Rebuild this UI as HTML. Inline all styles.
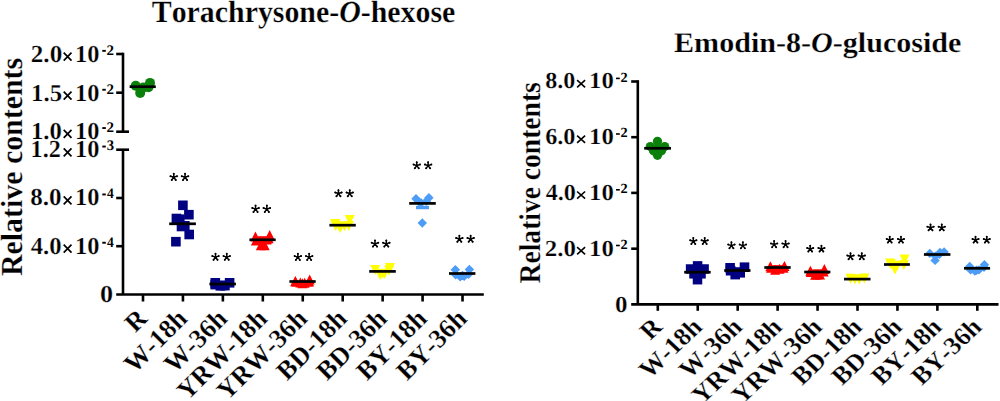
<!DOCTYPE html>
<html><head><meta charset="utf-8"><style>
html,body{margin:0;padding:0;background:#fff;width:1000px;height:401px;overflow:hidden}
svg{display:block}
text{font-family:"Liberation Serif", serif;text-rendering:geometricPrecision;stroke:#fff;stroke-width:0.25px;paint-order:fill stroke;font-kerning:none;font-feature-settings:"kern" 0}
.fb{font-family:"Liberation Serif", serif;font-weight:bold;font-style:normal}
.fbi{font-family:"Liberation Serif", serif;font-weight:bold;font-style:italic}
.s{font-family:"Liberation Sans", sans-serif;font-weight:normal;font-style:normal}
.sb{font-family:"Liberation Sans", sans-serif;font-weight:bold;font-style:normal}
</style></head><body>
<svg width="1000" height="401" viewBox="0 0 1000 401">
<rect width="1000" height="401" fill="#fff"/>
<text transform="translate(151.75,21.80) scale(0.9695,1)" font-size="30.8" fill="#000"><tspan class="fb">Torachrysone-</tspan><tspan class="fbi">O</tspan><tspan class="fb">-hexose</tspan></text>
<text transform="translate(674.05,51.80) scale(1.0591,1)" font-size="28.4" fill="#000"><tspan class="fb">Emodin-8-</tspan><tspan class="fbi">O</tspan><tspan class="fb">-glucoside</tspan></text>
<text transform="translate(22.20,276.05) rotate(-90) scale(0.9734,1)" font-size="30.7" text-anchor="start"><tspan class="fb">Relative contents</tspan></text>
<text transform="translate(540.30,283.41) rotate(-90) scale(0.9126,1)" font-size="30.2" text-anchor="start"><tspan class="fb">Relative contents</tspan></text>
<line x1="123.00" y1="52.70" x2="123.00" y2="131.70" stroke="#000" stroke-width="2.6" stroke-linecap="butt"/>
<line x1="123.00" y1="149.70" x2="123.00" y2="294.50" stroke="#000" stroke-width="2.6" stroke-linecap="butt"/>
<line x1="116.20" y1="294.50" x2="483.80" y2="294.50" stroke="#000" stroke-width="2.6" stroke-linecap="butt"/>
<line x1="116.20" y1="54.00" x2="123.00" y2="54.00" stroke="#000" stroke-width="2.6" stroke-linecap="butt"/>
<line x1="116.20" y1="92.70" x2="123.00" y2="92.70" stroke="#000" stroke-width="2.6" stroke-linecap="butt"/>
<line x1="116.20" y1="198.00" x2="123.00" y2="198.00" stroke="#000" stroke-width="2.6" stroke-linecap="butt"/>
<line x1="116.20" y1="246.20" x2="123.00" y2="246.20" stroke="#000" stroke-width="2.6" stroke-linecap="butt"/>
<line x1="116.20" y1="131.70" x2="129.00" y2="131.70" stroke="#000" stroke-width="2.6" stroke-linecap="butt"/>
<line x1="116.20" y1="149.70" x2="129.00" y2="149.70" stroke="#000" stroke-width="2.6" stroke-linecap="butt"/>
<line x1="143.00" y1="294.50" x2="143.00" y2="301.50" stroke="#000" stroke-width="2.6" stroke-linecap="butt"/>
<line x1="182.94" y1="294.50" x2="182.94" y2="301.50" stroke="#000" stroke-width="2.6" stroke-linecap="butt"/>
<line x1="222.88" y1="294.50" x2="222.88" y2="301.50" stroke="#000" stroke-width="2.6" stroke-linecap="butt"/>
<line x1="262.82" y1="294.50" x2="262.82" y2="301.50" stroke="#000" stroke-width="2.6" stroke-linecap="butt"/>
<line x1="302.76" y1="294.50" x2="302.76" y2="301.50" stroke="#000" stroke-width="2.6" stroke-linecap="butt"/>
<line x1="342.70" y1="294.50" x2="342.70" y2="301.50" stroke="#000" stroke-width="2.6" stroke-linecap="butt"/>
<line x1="382.64" y1="294.50" x2="382.64" y2="301.50" stroke="#000" stroke-width="2.6" stroke-linecap="butt"/>
<line x1="422.58" y1="294.50" x2="422.58" y2="301.50" stroke="#000" stroke-width="2.6" stroke-linecap="butt"/>
<line x1="462.52" y1="294.50" x2="462.52" y2="301.50" stroke="#000" stroke-width="2.6" stroke-linecap="butt"/>
<text transform="translate(30.79,61.70) scale(1.0298,1)" font-size="24.4" fill="#000"><tspan class="fb">2.0</tspan></text><path d="M63.70,52.70L71.50,60.70M71.50,52.70L63.70,60.70" stroke="#000" stroke-width="1.7" fill="none"/><text transform="translate(75.10,61.70) scale(1.0000,1)" font-size="24.4"><tspan class="fb">10</tspan></text><rect x="102.3" y="49.90" width="3.5" height="1.9" fill="#000"/><text transform="translate(106.60,54.60) scale(1.0274,1)" font-size="14.6" fill="#000" style="stroke:none"><tspan class="fb">2</tspan></text>
<text transform="translate(31.12,100.60) scale(1.0147,1)" font-size="24.4" fill="#000"><tspan class="fb">1.5</tspan></text><path d="M63.70,91.60L71.50,99.60M71.50,91.60L63.70,99.60" stroke="#000" stroke-width="1.7" fill="none"/><text transform="translate(75.10,100.60) scale(1.0000,1)" font-size="24.4"><tspan class="fb">10</tspan></text><rect x="102.3" y="88.80" width="3.5" height="1.9" fill="#000"/><text transform="translate(106.60,93.50) scale(1.0274,1)" font-size="14.6" fill="#000" style="stroke:none"><tspan class="fb">2</tspan></text>
<text transform="translate(31.02,138.90) scale(1.0119,1)" font-size="24.4" fill="#000"><tspan class="fb">1.0</tspan></text><path d="M63.70,129.90L71.50,137.90M71.50,129.90L63.70,137.90" stroke="#000" stroke-width="1.7" fill="none"/><text transform="translate(75.10,138.90) scale(1.0000,1)" font-size="24.4"><tspan class="fb">10</tspan></text><rect x="102.3" y="127.10" width="3.5" height="1.9" fill="#000"/><text transform="translate(106.60,131.80) scale(1.0274,1)" font-size="14.6" fill="#000" style="stroke:none"><tspan class="fb">2</tspan></text>
<text transform="translate(30.57,157.40) scale(0.9901,1)" font-size="24.4" fill="#000"><tspan class="fb">1.2</tspan></text><path d="M63.70,148.40L71.50,156.40M71.50,148.40L63.70,156.40" stroke="#000" stroke-width="1.7" fill="none"/><text transform="translate(75.10,157.40) scale(1.0000,1)" font-size="24.4"><tspan class="fb">10</tspan></text><rect x="102.3" y="145.60" width="3.5" height="1.9" fill="#000"/><text transform="translate(106.69,150.30) scale(1.0035,1)" font-size="14.6" fill="#000" style="stroke:none"><tspan class="fb">3</tspan></text>
<text transform="translate(30.22,205.30) scale(1.0290,1)" font-size="24.4" fill="#000"><tspan class="fb">8.0</tspan></text><path d="M63.70,196.30L71.50,204.30M71.50,196.30L63.70,204.30" stroke="#000" stroke-width="1.7" fill="none"/><text transform="translate(75.10,205.30) scale(1.0000,1)" font-size="24.4"><tspan class="fb">10</tspan></text><rect x="102.3" y="193.50" width="3.5" height="1.9" fill="#000"/><text transform="translate(107.00,198.20) scale(0.9280,1)" font-size="14.6" fill="#000" style="stroke:none"><tspan class="fb">4</tspan></text>
<text transform="translate(30.73,253.60) scale(1.0117,1)" font-size="24.4" fill="#000"><tspan class="fb">4.0</tspan></text><path d="M63.70,244.60L71.50,252.60M71.50,244.60L63.70,252.60" stroke="#000" stroke-width="1.7" fill="none"/><text transform="translate(75.10,253.60) scale(1.0000,1)" font-size="24.4"><tspan class="fb">10</tspan></text><rect x="102.3" y="241.80" width="3.5" height="1.9" fill="#000"/><text transform="translate(107.00,246.50) scale(0.9280,1)" font-size="14.6" fill="#000" style="stroke:none"><tspan class="fb">4</tspan></text>
<text transform="translate(99.95,301.80) scale(1.0734,1)" font-size="24.4" fill="#000"><tspan class="fb">0</tspan></text>
<line x1="637.80" y1="80.20" x2="637.80" y2="304.40" stroke="#000" stroke-width="2.6" stroke-linecap="butt"/>
<line x1="631.20" y1="304.40" x2="998.50" y2="304.40" stroke="#000" stroke-width="2.6" stroke-linecap="butt"/>
<line x1="631.20" y1="81.50" x2="637.80" y2="81.50" stroke="#000" stroke-width="2.6" stroke-linecap="butt"/>
<line x1="631.20" y1="137.20" x2="637.80" y2="137.20" stroke="#000" stroke-width="2.6" stroke-linecap="butt"/>
<line x1="631.20" y1="192.90" x2="637.80" y2="192.90" stroke="#000" stroke-width="2.6" stroke-linecap="butt"/>
<line x1="631.20" y1="248.70" x2="637.80" y2="248.70" stroke="#000" stroke-width="2.6" stroke-linecap="butt"/>
<line x1="657.80" y1="304.40" x2="657.80" y2="310.80" stroke="#000" stroke-width="2.6" stroke-linecap="butt"/>
<line x1="697.74" y1="304.40" x2="697.74" y2="310.80" stroke="#000" stroke-width="2.6" stroke-linecap="butt"/>
<line x1="737.68" y1="304.40" x2="737.68" y2="310.80" stroke="#000" stroke-width="2.6" stroke-linecap="butt"/>
<line x1="777.62" y1="304.40" x2="777.62" y2="310.80" stroke="#000" stroke-width="2.6" stroke-linecap="butt"/>
<line x1="817.56" y1="304.40" x2="817.56" y2="310.80" stroke="#000" stroke-width="2.6" stroke-linecap="butt"/>
<line x1="857.50" y1="304.40" x2="857.50" y2="310.80" stroke="#000" stroke-width="2.6" stroke-linecap="butt"/>
<line x1="897.44" y1="304.40" x2="897.44" y2="310.80" stroke="#000" stroke-width="2.6" stroke-linecap="butt"/>
<line x1="937.38" y1="304.40" x2="937.38" y2="310.80" stroke="#000" stroke-width="2.6" stroke-linecap="butt"/>
<line x1="977.32" y1="304.40" x2="977.32" y2="310.80" stroke="#000" stroke-width="2.6" stroke-linecap="butt"/>
<text transform="translate(545.16,88.40) scale(1.0472,1)" font-size="23.0" fill="#000"><tspan class="fb">8.0</tspan></text><path d="M577.10,80.10L585.10,87.30M585.10,80.10L577.10,87.30" stroke="#000" stroke-width="1.6" fill="none"/><text transform="translate(589.10,88.40) scale(1.0770,1)" font-size="23.0"><tspan class="fb">10</tspan></text><rect x="616.0" y="77.60" width="3.8" height="1.6" fill="#000"/><text transform="translate(620.43,81.50) scale(1.0204,1)" font-size="14.0" fill="#000" style="stroke:none"><tspan class="fb">2</tspan></text>
<text transform="translate(545.15,144.00) scale(1.0546,1)" font-size="23.0" fill="#000"><tspan class="fb">6.0</tspan></text><path d="M577.10,135.70L585.10,142.90M585.10,135.70L577.10,142.90" stroke="#000" stroke-width="1.6" fill="none"/><text transform="translate(589.10,144.00) scale(1.0770,1)" font-size="23.0"><tspan class="fb">10</tspan></text><rect x="616.0" y="133.20" width="3.8" height="1.6" fill="#000"/><text transform="translate(620.43,137.10) scale(1.0204,1)" font-size="14.0" fill="#000" style="stroke:none"><tspan class="fb">2</tspan></text>
<text transform="translate(545.64,199.80) scale(1.0515,1)" font-size="23.0" fill="#000"><tspan class="fb">4.0</tspan></text><path d="M577.10,191.50L585.10,198.70M585.10,191.50L577.10,198.70" stroke="#000" stroke-width="1.6" fill="none"/><text transform="translate(589.10,199.80) scale(1.0770,1)" font-size="23.0"><tspan class="fb">10</tspan></text><rect x="616.0" y="189.00" width="3.8" height="1.6" fill="#000"/><text transform="translate(620.43,192.90) scale(1.0204,1)" font-size="14.0" fill="#000" style="stroke:none"><tspan class="fb">2</tspan></text>
<text transform="translate(544.70,255.50) scale(1.0851,1)" font-size="23.0" fill="#000"><tspan class="fb">2.0</tspan></text><path d="M577.10,247.20L585.10,254.40M585.10,247.20L577.10,254.40" stroke="#000" stroke-width="1.6" fill="none"/><text transform="translate(589.10,255.50) scale(1.0770,1)" font-size="23.0"><tspan class="fb">10</tspan></text><rect x="616.0" y="244.70" width="3.8" height="1.6" fill="#000"/><text transform="translate(620.43,248.60) scale(1.0204,1)" font-size="14.0" fill="#000" style="stroke:none"><tspan class="fb">2</tspan></text>
<text transform="translate(615.00,311.60) scale(1.0870,1)" font-size="23.0" fill="#000"><tspan class="fb">0</tspan></text>
<text transform="translate(148.80,320.00) rotate(-45) scale(1.0000,1)" font-size="26.5" text-anchor="end"><tspan class="fb">R</tspan></text>
<text transform="translate(663.70,328.30) scale(1.0600,1) rotate(-45) scale(1.0000,1)" font-size="25.0" text-anchor="end"><tspan class="fb">R</tspan></text>
<text transform="translate(188.74,320.00) rotate(-45) scale(1.0000,1)" font-size="26.5" text-anchor="end"><tspan class="fb">W-18h</tspan></text>
<text transform="translate(703.64,328.30) scale(1.0600,1) rotate(-45) scale(1.0000,1)" font-size="25.0" text-anchor="end"><tspan class="fb">W-18h</tspan></text>
<text transform="translate(228.68,320.00) rotate(-45) scale(1.0000,1)" font-size="26.5" text-anchor="end"><tspan class="fb">W-36h</tspan></text>
<text transform="translate(743.58,328.30) scale(1.0600,1) rotate(-45) scale(1.0000,1)" font-size="25.0" text-anchor="end"><tspan class="fb">W-36h</tspan></text>
<text transform="translate(268.62,320.00) rotate(-45) scale(1.0000,1)" font-size="26.5" text-anchor="end"><tspan class="fb">YRW-18h</tspan></text>
<text transform="translate(783.52,328.30) scale(1.0600,1) rotate(-45) scale(1.0000,1)" font-size="25.0" text-anchor="end"><tspan class="fb">YRW-18h</tspan></text>
<text transform="translate(308.56,320.00) rotate(-45) scale(1.0000,1)" font-size="26.5" text-anchor="end"><tspan class="fb">YRW-36h</tspan></text>
<text transform="translate(823.46,328.30) scale(1.0600,1) rotate(-45) scale(1.0000,1)" font-size="25.0" text-anchor="end"><tspan class="fb">YRW-36h</tspan></text>
<text transform="translate(348.50,320.00) rotate(-45) scale(1.0000,1)" font-size="26.5" text-anchor="end"><tspan class="fb">BD-18h</tspan></text>
<text transform="translate(863.40,328.30) scale(1.0600,1) rotate(-45) scale(1.0000,1)" font-size="25.0" text-anchor="end"><tspan class="fb">BD-18h</tspan></text>
<text transform="translate(388.44,320.00) rotate(-45) scale(1.0000,1)" font-size="26.5" text-anchor="end"><tspan class="fb">BD-36h</tspan></text>
<text transform="translate(903.34,328.30) scale(1.0600,1) rotate(-45) scale(1.0000,1)" font-size="25.0" text-anchor="end"><tspan class="fb">BD-36h</tspan></text>
<text transform="translate(428.38,320.00) rotate(-45) scale(1.0000,1)" font-size="26.5" text-anchor="end"><tspan class="fb">BY-18h</tspan></text>
<text transform="translate(943.28,328.30) scale(1.0600,1) rotate(-45) scale(1.0000,1)" font-size="25.0" text-anchor="end"><tspan class="fb">BY-18h</tspan></text>
<text transform="translate(468.32,320.00) rotate(-45) scale(1.0000,1)" font-size="26.5" text-anchor="end"><tspan class="fb">BY-36h</tspan></text>
<text transform="translate(983.22,328.30) scale(1.0600,1) rotate(-45) scale(1.0000,1)" font-size="25.0" text-anchor="end"><tspan class="fb">BY-36h</tspan></text>
<circle cx="135.70" cy="85.80" r="5" fill="#0b800b"/>
<circle cx="150.00" cy="82.90" r="5" fill="#0b800b"/>
<circle cx="140.20" cy="92.90" r="5" fill="#0b800b"/>
<circle cx="143.50" cy="87.40" r="5" fill="#0b800b"/>
<circle cx="148.50" cy="87.20" r="5" fill="#0b800b"/>
<line x1="129.60" y1="86.70" x2="155.80" y2="86.70" stroke="#000" stroke-width="2.7" stroke-linecap="butt"/>
<rect x="178.10" y="200.50" width="9.6" height="9.6" fill="#000080"/>
<rect x="184.10" y="209.90" width="9.6" height="9.6" fill="#000080"/>
<rect x="171.60" y="213.70" width="9.6" height="9.6" fill="#000080"/>
<rect x="175.00" y="214.40" width="9.6" height="9.6" fill="#000080"/>
<rect x="176.70" y="221.70" width="9.6" height="9.6" fill="#000080"/>
<rect x="180.00" y="221.00" width="9.6" height="9.6" fill="#000080"/>
<rect x="184.40" y="229.70" width="9.6" height="9.6" fill="#000080"/>
<rect x="171.10" y="236.90" width="9.6" height="9.6" fill="#000080"/>
<line x1="169.20" y1="223.80" x2="195.90" y2="223.80" stroke="#000" stroke-width="2.7" stroke-linecap="butt"/>
<rect x="210.50" y="278.00" width="9.6" height="9.6" fill="#000080"/>
<rect x="224.80" y="278.00" width="9.6" height="9.6" fill="#000080"/>
<rect x="217.60" y="280.60" width="9.6" height="9.6" fill="#000080"/>
<rect x="210.40" y="279.80" width="9.6" height="9.6" fill="#000080"/>
<rect x="220.10" y="280.80" width="9.6" height="9.6" fill="#000080"/>
<rect x="215.50" y="281.00" width="9.6" height="9.6" fill="#000080"/>
<line x1="209.40" y1="284.00" x2="235.90" y2="284.00" stroke="#000" stroke-width="2.7" stroke-linecap="butt"/>
<polygon points="255.45,231.50 260.45,241.50 250.45,241.50" fill="#ff0000"/>
<polygon points="269.70,230.00 274.70,240.00 264.70,240.00" fill="#ff0000"/>
<polygon points="255.90,235.40 260.90,245.40 250.90,245.40" fill="#ff0000"/>
<polygon points="260.80,240.30 265.80,250.30 255.80,250.30" fill="#ff0000"/>
<polygon points="264.70,240.30 269.70,250.30 259.70,250.30" fill="#ff0000"/>
<polygon points="268.60,233.20 273.60,243.20 263.60,243.20" fill="#ff0000"/>
<rect x="258.00" y="236.20" width="9.00" height="5.30" fill="#ff0000"/>
<rect x="253.50" y="240.00" width="18.00" height="4.50" fill="#ff0000"/>
<line x1="249.40" y1="239.80" x2="275.70" y2="239.80" stroke="#000" stroke-width="2.7" stroke-linecap="butt"/>
<polygon points="295.30,275.90 300.30,285.90 290.30,285.90" fill="#ff0000"/>
<polygon points="300.30,277.40 305.30,287.40 295.30,287.40" fill="#ff0000"/>
<polygon points="304.70,277.70 309.70,287.70 299.70,287.70" fill="#ff0000"/>
<polygon points="309.70,274.50 314.70,284.50 304.70,284.50" fill="#ff0000"/>
<polygon points="295.50,276.50 300.50,286.50 290.50,286.50" fill="#ff0000"/>
<polygon points="309.10,276.50 314.10,286.50 304.10,286.50" fill="#ff0000"/>
<polygon points="302.50,278.30 307.50,288.30 297.50,288.30" fill="#ff0000"/>
<rect x="292.00" y="281.00" width="20.60" height="5.50" fill="#ff0000"/>
<line x1="289.40" y1="281.50" x2="315.70" y2="281.50" stroke="#000" stroke-width="2.7" stroke-linecap="butt"/>
<polygon points="349.70,224.90 354.70,214.90 344.70,214.90" fill="#ffff00"/>
<polygon points="335.20,229.00 340.20,219.00 330.20,219.00" fill="#ffff00"/>
<polygon points="335.70,231.00 340.70,221.00 330.70,221.00" fill="#ffff00"/>
<polygon points="340.10,233.10 345.10,223.10 335.10,223.10" fill="#ffff00"/>
<polygon points="344.50,231.30 349.50,221.30 339.50,221.30" fill="#ffff00"/>
<polygon points="348.80,231.00 353.80,221.00 343.80,221.00" fill="#ffff00"/>
<line x1="329.40" y1="225.20" x2="355.80" y2="225.20" stroke="#000" stroke-width="2.7" stroke-linecap="butt"/>
<polygon points="389.80,273.10 394.80,263.10 384.80,263.10" fill="#ffff00"/>
<polygon points="375.20,274.90 380.20,264.90 370.20,264.90" fill="#ffff00"/>
<polygon points="380.10,279.90 385.10,269.90 375.10,269.90" fill="#ffff00"/>
<polygon points="384.50,279.00 389.50,269.00 379.50,269.00" fill="#ffff00"/>
<polygon points="389.10,275.50 394.10,265.50 384.10,265.50" fill="#ffff00"/>
<polygon points="382.40,278.70 387.40,268.70 377.40,268.70" fill="#ffff00"/>
<line x1="369.20" y1="271.40" x2="395.80" y2="271.40" stroke="#000" stroke-width="2.7" stroke-linecap="butt"/>
<polygon points="416.00,194.10 420.70,198.80 416.00,203.50 411.30,198.80" fill="#4d9cf6"/>
<polygon points="428.90,193.00 433.60,197.70 428.90,202.40 424.20,197.70" fill="#4d9cf6"/>
<polygon points="421.20,198.20 425.90,202.90 421.20,207.60 416.50,202.90" fill="#4d9cf6"/>
<polygon points="418.60,196.80 423.30,201.50 418.60,206.20 413.90,201.50" fill="#4d9cf6"/>
<polygon points="426.30,196.50 431.00,201.20 426.30,205.90 421.60,201.20" fill="#4d9cf6"/>
<polygon points="422.30,218.30 427.00,223.00 422.30,227.70 417.60,223.00" fill="#4d9cf6"/>
<rect x="416.00" y="205.90" width="13.00" height="3.30" fill="#4d9cf6"/>
<line x1="409.20" y1="203.40" x2="435.80" y2="203.40" stroke="#000" stroke-width="2.7" stroke-linecap="butt"/>
<polygon points="455.30,265.00 460.05,269.75 455.30,274.50 450.55,269.75" fill="#4d9cf6"/>
<polygon points="469.40,264.70 474.15,269.45 469.40,274.20 464.65,269.45" fill="#4d9cf6"/>
<polygon points="455.60,270.10 460.35,274.85 455.60,279.60 450.85,274.85" fill="#4d9cf6"/>
<polygon points="460.20,271.90 464.95,276.65 460.20,281.40 455.45,276.65" fill="#4d9cf6"/>
<polygon points="464.20,271.60 468.95,276.35 464.20,281.10 459.45,276.35" fill="#4d9cf6"/>
<polygon points="468.50,269.60 473.25,274.35 468.50,279.10 463.75,274.35" fill="#4d9cf6"/>
<polygon points="462.50,270.80 467.25,275.55 462.50,280.30 457.75,275.55" fill="#4d9cf6"/>
<line x1="449.00" y1="273.50" x2="475.40" y2="273.50" stroke="#000" stroke-width="2.7" stroke-linecap="butt"/>
<circle cx="657.50" cy="141.30" r="4.6" fill="#0b800b"/>
<circle cx="650.30" cy="146.60" r="4.6" fill="#0b800b"/>
<circle cx="664.70" cy="146.60" r="4.6" fill="#0b800b"/>
<circle cx="657.50" cy="155.30" r="4.6" fill="#0b800b"/>
<circle cx="657.50" cy="148.00" r="4.6" fill="#0b800b"/>
<circle cx="653.50" cy="150.80" r="4.6" fill="#0b800b"/>
<circle cx="661.50" cy="150.80" r="4.6" fill="#0b800b"/>
<line x1="644.20" y1="148.30" x2="671.00" y2="148.30" stroke="#000" stroke-width="2.7" stroke-linecap="butt"/>
<rect x="692.85" y="261.15" width="9.5" height="9.5" fill="#000080"/>
<rect x="685.85" y="264.25" width="9.5" height="9.5" fill="#000080"/>
<rect x="699.35" y="264.25" width="9.5" height="9.5" fill="#000080"/>
<rect x="689.25" y="269.05" width="9.5" height="9.5" fill="#000080"/>
<rect x="696.25" y="269.05" width="9.5" height="9.5" fill="#000080"/>
<rect x="692.75" y="274.95" width="9.5" height="9.5" fill="#000080"/>
<line x1="684.20" y1="272.20" x2="710.70" y2="272.20" stroke="#000" stroke-width="2.7" stroke-linecap="butt"/>
<rect x="725.30" y="263.00" width="9.6" height="9.6" fill="#000080"/>
<rect x="739.70" y="262.40" width="9.6" height="9.6" fill="#000080"/>
<rect x="732.40" y="267.20" width="9.6" height="9.6" fill="#000080"/>
<rect x="730.40" y="269.80" width="9.6" height="9.6" fill="#000080"/>
<rect x="725.80" y="265.90" width="9.6" height="9.6" fill="#000080"/>
<rect x="735.40" y="268.00" width="9.6" height="9.6" fill="#000080"/>
<line x1="724.20" y1="270.50" x2="750.50" y2="270.50" stroke="#000" stroke-width="2.7" stroke-linecap="butt"/>
<polygon points="770.30,261.20 775.30,271.20 765.30,271.20" fill="#ff0000"/>
<polygon points="784.50,260.90 789.50,270.90 779.50,270.90" fill="#ff0000"/>
<polygon points="779.50,263.80 784.50,273.80 774.50,273.80" fill="#ff0000"/>
<polygon points="771.00,262.70 776.00,272.70 766.00,272.70" fill="#ff0000"/>
<polygon points="775.10,264.80 780.10,274.80 770.10,274.80" fill="#ff0000"/>
<polygon points="783.50,262.70 788.50,272.70 778.50,272.70" fill="#ff0000"/>
<rect x="772.50" y="265.10" width="9.50" height="5.90" fill="#ff0000"/>
<line x1="764.30" y1="267.50" x2="790.70" y2="267.50" stroke="#000" stroke-width="2.7" stroke-linecap="butt"/>
<polygon points="810.30,265.70 815.30,275.70 805.30,275.70" fill="#ff0000"/>
<polygon points="824.40,264.10 829.40,274.10 819.40,274.10" fill="#ff0000"/>
<polygon points="810.90,266.90 815.90,276.90 805.90,276.90" fill="#ff0000"/>
<polygon points="815.10,269.80 820.10,279.80 810.10,279.80" fill="#ff0000"/>
<polygon points="823.70,266.60 828.70,276.60 818.70,276.60" fill="#ff0000"/>
<polygon points="820.00,269.40 825.00,279.40 815.00,279.40" fill="#ff0000"/>
<polygon points="817.30,269.50 822.30,279.50 812.30,279.50" fill="#ff0000"/>
<rect x="812.50" y="269.30" width="9.50" height="5.70" fill="#ff0000"/>
<line x1="804.20" y1="272.00" x2="830.40" y2="272.00" stroke="#000" stroke-width="2.7" stroke-linecap="butt"/>
<polygon points="850.50,283.80 855.50,273.80 845.50,273.80" fill="#ffff00"/>
<polygon points="855.00,284.50 860.00,274.50 850.00,274.50" fill="#ffff00"/>
<polygon points="859.30,284.50 864.30,274.50 854.30,274.50" fill="#ffff00"/>
<polygon points="864.40,283.50 869.40,273.50 859.40,273.50" fill="#ffff00"/>
<line x1="844.00" y1="279.10" x2="870.50" y2="279.10" stroke="#000" stroke-width="2.7" stroke-linecap="butt"/>
<polygon points="904.50,264.50 909.50,254.50 899.50,254.50" fill="#ffff00"/>
<polygon points="890.00,268.40 895.00,258.40 885.00,258.40" fill="#ffff00"/>
<polygon points="894.90,274.40 899.90,264.40 889.90,264.40" fill="#ffff00"/>
<polygon points="897.40,270.80 902.40,260.80 892.40,260.80" fill="#ffff00"/>
<polygon points="903.90,270.00 908.90,260.00 898.90,260.00" fill="#ffff00"/>
<polygon points="891.00,269.50 896.00,259.50 886.00,259.50" fill="#ffff00"/>
<line x1="884.00" y1="264.50" x2="909.90" y2="264.50" stroke="#000" stroke-width="2.7" stroke-linecap="butt"/>
<polygon points="929.80,248.70 934.50,253.40 929.80,258.10 925.10,253.40" fill="#4d9cf6"/>
<polygon points="944.10,247.20 948.80,251.90 944.10,256.60 939.40,251.90" fill="#4d9cf6"/>
<polygon points="935.10,255.70 939.80,260.40 935.10,265.10 930.40,260.40" fill="#4d9cf6"/>
<polygon points="935.30,251.40 940.00,256.10 935.30,260.80 930.60,256.10" fill="#4d9cf6"/>
<polygon points="939.50,249.50 944.20,254.20 939.50,258.90 934.80,254.20" fill="#4d9cf6"/>
<polygon points="940.00,247.80 944.70,252.50 940.00,257.20 935.30,252.50" fill="#4d9cf6"/>
<line x1="923.90" y1="254.50" x2="950.40" y2="254.50" stroke="#000" stroke-width="2.7" stroke-linecap="butt"/>
<polygon points="969.70,261.70 974.40,266.40 969.70,271.10 965.00,266.40" fill="#4d9cf6"/>
<polygon points="984.40,260.00 989.10,264.70 984.40,269.40 979.70,264.70" fill="#4d9cf6"/>
<polygon points="970.60,265.20 975.30,269.90 970.60,274.60 965.90,269.90" fill="#4d9cf6"/>
<polygon points="974.90,266.40 979.60,271.10 974.90,275.80 970.20,271.10" fill="#4d9cf6"/>
<polygon points="978.90,265.20 983.60,269.90 978.90,274.60 974.20,269.90" fill="#4d9cf6"/>
<polygon points="976.50,265.50 981.20,270.20 976.50,274.90 971.80,270.20" fill="#4d9cf6"/>
<polygon points="984.00,262.60 988.70,267.30 984.00,272.00 979.30,267.30" fill="#4d9cf6"/>
<line x1="964.00" y1="268.30" x2="990.10" y2="268.30" stroke="#000" stroke-width="2.7" stroke-linecap="butt"/>
<g fill="#000"><path d="M173.75,177.25L173.75,173.80M173.75,177.25L177.03,176.18M173.75,177.25L175.78,180.04M173.75,177.25L171.72,180.04M173.75,177.25L170.47,176.18" stroke="#000" stroke-width="1.45" stroke-linecap="round" fill="none"/><circle cx="173.75" cy="173.80" r="1.0"/><circle cx="177.03" cy="176.18" r="1.0"/><circle cx="175.78" cy="180.04" r="1.0"/><circle cx="171.72" cy="180.04" r="1.0"/><circle cx="170.47" cy="176.18" r="1.0"/><circle cx="173.75" cy="177.25" r="1.2"/></g><g fill="#000"><path d="M185.05,177.25L185.05,173.80M185.05,177.25L188.33,176.18M185.05,177.25L187.08,180.04M185.05,177.25L183.02,180.04M185.05,177.25L181.77,176.18" stroke="#000" stroke-width="1.45" stroke-linecap="round" fill="none"/><circle cx="185.05" cy="173.80" r="1.0"/><circle cx="188.33" cy="176.18" r="1.0"/><circle cx="187.08" cy="180.04" r="1.0"/><circle cx="183.02" cy="180.04" r="1.0"/><circle cx="181.77" cy="176.18" r="1.0"/><circle cx="185.05" cy="177.25" r="1.2"/></g>
<g fill="#000"><path d="M215.52,257.15L215.52,253.80M215.52,257.15L218.71,256.12M215.52,257.15L217.49,259.86M215.52,257.15L213.56,259.86M215.52,257.15L212.34,256.12" stroke="#000" stroke-width="1.45" stroke-linecap="round" fill="none"/><circle cx="215.52" cy="253.80" r="1.0"/><circle cx="218.71" cy="256.12" r="1.0"/><circle cx="217.49" cy="259.86" r="1.0"/><circle cx="213.56" cy="259.86" r="1.0"/><circle cx="212.34" cy="256.12" r="1.0"/><circle cx="215.52" cy="257.15" r="1.2"/></g><g fill="#000"><path d="M226.77,257.15L226.77,253.80M226.77,257.15L229.96,256.12M226.77,257.15L228.74,259.86M226.77,257.15L224.81,259.86M226.77,257.15L223.59,256.12" stroke="#000" stroke-width="1.45" stroke-linecap="round" fill="none"/><circle cx="226.77" cy="253.80" r="1.0"/><circle cx="229.96" cy="256.12" r="1.0"/><circle cx="228.74" cy="259.86" r="1.0"/><circle cx="224.81" cy="259.86" r="1.0"/><circle cx="223.59" cy="256.12" r="1.0"/><circle cx="226.77" cy="257.15" r="1.2"/></g>
<g fill="#000"><path d="M255.55,209.07L255.55,205.60M255.55,209.07L258.85,208.00M255.55,209.07L257.59,211.89M255.55,209.07L253.51,211.89M255.55,209.07L252.25,208.00" stroke="#000" stroke-width="1.45" stroke-linecap="round" fill="none"/><circle cx="255.55" cy="205.60" r="1.0"/><circle cx="258.85" cy="208.00" r="1.0"/><circle cx="257.59" cy="211.89" r="1.0"/><circle cx="253.51" cy="211.89" r="1.0"/><circle cx="252.25" cy="208.00" r="1.0"/><circle cx="255.55" cy="209.07" r="1.2"/></g><g fill="#000"><path d="M266.85,209.07L266.85,205.60M266.85,209.07L270.15,208.00M266.85,209.07L268.89,211.89M266.85,209.07L264.81,211.89M266.85,209.07L263.55,208.00" stroke="#000" stroke-width="1.45" stroke-linecap="round" fill="none"/><circle cx="266.85" cy="205.60" r="1.0"/><circle cx="270.15" cy="208.00" r="1.0"/><circle cx="268.89" cy="211.89" r="1.0"/><circle cx="264.81" cy="211.89" r="1.0"/><circle cx="263.55" cy="208.00" r="1.0"/><circle cx="266.85" cy="209.07" r="1.2"/></g>
<g fill="#000"><path d="M297.85,257.16L297.85,253.80M297.85,257.16L301.05,256.12M297.85,257.16L299.83,259.89M297.85,257.16L295.87,259.89M297.85,257.16L294.65,256.12" stroke="#000" stroke-width="1.45" stroke-linecap="round" fill="none"/><circle cx="297.85" cy="253.80" r="1.0"/><circle cx="301.05" cy="256.12" r="1.0"/><circle cx="299.83" cy="259.89" r="1.0"/><circle cx="295.87" cy="259.89" r="1.0"/><circle cx="294.65" cy="256.12" r="1.0"/><circle cx="297.85" cy="257.16" r="1.2"/></g><g fill="#000"><path d="M309.15,257.16L309.15,253.80M309.15,257.16L312.35,256.12M309.15,257.16L311.13,259.89M309.15,257.16L307.17,259.89M309.15,257.16L305.95,256.12" stroke="#000" stroke-width="1.45" stroke-linecap="round" fill="none"/><circle cx="309.15" cy="253.80" r="1.0"/><circle cx="312.35" cy="256.12" r="1.0"/><circle cx="311.13" cy="259.89" r="1.0"/><circle cx="307.17" cy="259.89" r="1.0"/><circle cx="305.95" cy="256.12" r="1.0"/><circle cx="309.15" cy="257.16" r="1.2"/></g>
<g fill="#000"><path d="M338.45,193.56L338.45,190.20M338.45,193.56L341.65,192.52M338.45,193.56L340.43,196.29M338.45,193.56L336.47,196.29M338.45,193.56L335.25,192.52" stroke="#000" stroke-width="1.45" stroke-linecap="round" fill="none"/><circle cx="338.45" cy="190.20" r="1.0"/><circle cx="341.65" cy="192.52" r="1.0"/><circle cx="340.43" cy="196.29" r="1.0"/><circle cx="336.47" cy="196.29" r="1.0"/><circle cx="335.25" cy="192.52" r="1.0"/><circle cx="338.45" cy="193.56" r="1.2"/></g><g fill="#000"><path d="M349.75,193.56L349.75,190.20M349.75,193.56L352.95,192.52M349.75,193.56L351.73,196.29M349.75,193.56L347.77,196.29M349.75,193.56L346.55,192.52" stroke="#000" stroke-width="1.45" stroke-linecap="round" fill="none"/><circle cx="349.75" cy="190.20" r="1.0"/><circle cx="352.95" cy="192.52" r="1.0"/><circle cx="351.73" cy="196.29" r="1.0"/><circle cx="347.77" cy="196.29" r="1.0"/><circle cx="346.55" cy="192.52" r="1.0"/><circle cx="349.75" cy="193.56" r="1.2"/></g>
<g fill="#000"><path d="M374.98,243.83L374.98,240.40M374.98,243.83L378.24,242.77M374.98,243.83L376.99,246.61M374.98,243.83L372.96,246.61M374.98,243.83L371.71,242.77" stroke="#000" stroke-width="1.45" stroke-linecap="round" fill="none"/><circle cx="374.98" cy="240.40" r="1.0"/><circle cx="378.24" cy="242.77" r="1.0"/><circle cx="376.99" cy="246.61" r="1.0"/><circle cx="372.96" cy="246.61" r="1.0"/><circle cx="371.71" cy="242.77" r="1.0"/><circle cx="374.98" cy="243.83" r="1.2"/></g><g fill="#000"><path d="M386.32,243.83L386.32,240.40M386.32,243.83L389.59,242.77M386.32,243.83L388.34,246.61M386.32,243.83L384.31,246.61M386.32,243.83L383.06,242.77" stroke="#000" stroke-width="1.45" stroke-linecap="round" fill="none"/><circle cx="386.32" cy="240.40" r="1.0"/><circle cx="389.59" cy="242.77" r="1.0"/><circle cx="388.34" cy="246.61" r="1.0"/><circle cx="384.31" cy="246.61" r="1.0"/><circle cx="383.06" cy="242.77" r="1.0"/><circle cx="386.32" cy="243.83" r="1.2"/></g>
<g fill="#000"><path d="M416.77,165.58L416.77,162.20M416.77,165.58L419.99,164.53M416.77,165.58L418.76,168.31M416.77,165.58L414.79,168.31M416.77,165.58L413.56,164.53" stroke="#000" stroke-width="1.45" stroke-linecap="round" fill="none"/><circle cx="416.77" cy="162.20" r="1.0"/><circle cx="419.99" cy="164.53" r="1.0"/><circle cx="418.76" cy="168.31" r="1.0"/><circle cx="414.79" cy="168.31" r="1.0"/><circle cx="413.56" cy="164.53" r="1.0"/><circle cx="416.77" cy="165.58" r="1.2"/></g><g fill="#000"><path d="M428.12,165.58L428.12,162.20M428.12,165.58L431.34,164.53M428.12,165.58L430.11,168.31M428.12,165.58L426.14,168.31M428.12,165.58L424.91,164.53" stroke="#000" stroke-width="1.45" stroke-linecap="round" fill="none"/><circle cx="428.12" cy="162.20" r="1.0"/><circle cx="431.34" cy="164.53" r="1.0"/><circle cx="430.11" cy="168.31" r="1.0"/><circle cx="426.14" cy="168.31" r="1.0"/><circle cx="424.91" cy="164.53" r="1.0"/><circle cx="428.12" cy="165.58" r="1.2"/></g>
<g fill="#000"><path d="M459.35,239.06L459.35,235.70M459.35,239.06L462.55,238.02M459.35,239.06L461.33,241.79M459.35,239.06L457.37,241.79M459.35,239.06L456.15,238.02" stroke="#000" stroke-width="1.45" stroke-linecap="round" fill="none"/><circle cx="459.35" cy="235.70" r="1.0"/><circle cx="462.55" cy="238.02" r="1.0"/><circle cx="461.33" cy="241.79" r="1.0"/><circle cx="457.37" cy="241.79" r="1.0"/><circle cx="456.15" cy="238.02" r="1.0"/><circle cx="459.35" cy="239.06" r="1.2"/></g><g fill="#000"><path d="M470.65,239.06L470.65,235.70M470.65,239.06L473.85,238.02M470.65,239.06L472.63,241.79M470.65,239.06L468.67,241.79M470.65,239.06L467.45,238.02" stroke="#000" stroke-width="1.45" stroke-linecap="round" fill="none"/><circle cx="470.65" cy="235.70" r="1.0"/><circle cx="473.85" cy="238.02" r="1.0"/><circle cx="472.63" cy="241.79" r="1.0"/><circle cx="468.67" cy="241.79" r="1.0"/><circle cx="467.45" cy="238.02" r="1.0"/><circle cx="470.65" cy="239.06" r="1.2"/></g>
<g fill="#000"><path d="M693.30,241.28L693.30,238.00M693.30,241.28L696.42,240.27M693.30,241.28L695.23,243.93M693.30,241.28L691.37,243.93M693.30,241.28L690.18,240.27" stroke="#000" stroke-width="1.45" stroke-linecap="round" fill="none"/><circle cx="693.30" cy="238.00" r="1.0"/><circle cx="696.42" cy="240.27" r="1.0"/><circle cx="695.23" cy="243.93" r="1.0"/><circle cx="691.37" cy="243.93" r="1.0"/><circle cx="690.18" cy="240.27" r="1.0"/><circle cx="693.30" cy="241.28" r="1.2"/></g><g fill="#000"><path d="M704.70,241.28L704.70,238.00M704.70,241.28L707.82,240.27M704.70,241.28L706.63,243.93M704.70,241.28L702.77,243.93M704.70,241.28L701.58,240.27" stroke="#000" stroke-width="1.45" stroke-linecap="round" fill="none"/><circle cx="704.70" cy="238.00" r="1.0"/><circle cx="707.82" cy="240.27" r="1.0"/><circle cx="706.63" cy="243.93" r="1.0"/><circle cx="702.77" cy="243.93" r="1.0"/><circle cx="701.58" cy="240.27" r="1.0"/><circle cx="704.70" cy="241.28" r="1.2"/></g>
<g fill="#000"><path d="M731.42,245.61L731.42,242.25M731.42,245.61L734.62,244.57M731.42,245.61L733.40,248.33M731.42,245.61L729.45,248.33M731.42,245.61L728.23,244.57" stroke="#000" stroke-width="1.45" stroke-linecap="round" fill="none"/><circle cx="731.42" cy="242.25" r="1.0"/><circle cx="734.62" cy="244.57" r="1.0"/><circle cx="733.40" cy="248.33" r="1.0"/><circle cx="729.45" cy="248.33" r="1.0"/><circle cx="728.23" cy="244.57" r="1.0"/><circle cx="731.42" cy="245.61" r="1.2"/></g><g fill="#000"><path d="M742.88,245.61L742.88,242.25M742.88,245.61L746.07,244.57M742.88,245.61L744.85,248.33M742.88,245.61L740.90,248.33M742.88,245.61L739.68,244.57" stroke="#000" stroke-width="1.45" stroke-linecap="round" fill="none"/><circle cx="742.88" cy="242.25" r="1.0"/><circle cx="746.07" cy="244.57" r="1.0"/><circle cx="744.85" cy="248.33" r="1.0"/><circle cx="740.90" cy="248.33" r="1.0"/><circle cx="739.68" cy="244.57" r="1.0"/><circle cx="742.88" cy="245.61" r="1.2"/></g>
<g fill="#000"><path d="M774.12,244.46L774.12,241.10M774.12,244.46L777.32,243.42M774.12,244.46L776.10,247.18M774.12,244.46L772.15,247.18M774.12,244.46L770.93,243.42" stroke="#000" stroke-width="1.45" stroke-linecap="round" fill="none"/><circle cx="774.12" cy="241.10" r="1.0"/><circle cx="777.32" cy="243.42" r="1.0"/><circle cx="776.10" cy="247.18" r="1.0"/><circle cx="772.15" cy="247.18" r="1.0"/><circle cx="770.93" cy="243.42" r="1.0"/><circle cx="774.12" cy="244.46" r="1.2"/></g><g fill="#000"><path d="M785.58,244.46L785.58,241.10M785.58,244.46L788.77,243.42M785.58,244.46L787.55,247.18M785.58,244.46L783.60,247.18M785.58,244.46L782.38,243.42" stroke="#000" stroke-width="1.45" stroke-linecap="round" fill="none"/><circle cx="785.58" cy="241.10" r="1.0"/><circle cx="788.77" cy="243.42" r="1.0"/><circle cx="787.55" cy="247.18" r="1.0"/><circle cx="783.60" cy="247.18" r="1.0"/><circle cx="782.38" cy="243.42" r="1.0"/><circle cx="785.58" cy="244.46" r="1.2"/></g>
<g fill="#000"><path d="M810.21,248.94L810.21,245.75M810.21,248.94L813.25,247.96M810.21,248.94L812.09,251.53M810.21,248.94L808.34,251.53M810.21,248.94L807.18,247.96" stroke="#000" stroke-width="1.45" stroke-linecap="round" fill="none"/><circle cx="810.21" cy="245.75" r="1.0"/><circle cx="813.25" cy="247.96" r="1.0"/><circle cx="812.09" cy="251.53" r="1.0"/><circle cx="808.34" cy="251.53" r="1.0"/><circle cx="807.18" cy="247.96" r="1.0"/><circle cx="810.21" cy="248.94" r="1.2"/></g><g fill="#000"><path d="M821.44,248.94L821.44,245.75M821.44,248.94L824.47,247.96M821.44,248.94L823.31,251.53M821.44,248.94L819.56,251.53M821.44,248.94L818.40,247.96" stroke="#000" stroke-width="1.45" stroke-linecap="round" fill="none"/><circle cx="821.44" cy="245.75" r="1.0"/><circle cx="824.47" cy="247.96" r="1.0"/><circle cx="823.31" cy="251.53" r="1.0"/><circle cx="819.56" cy="251.53" r="1.0"/><circle cx="818.40" cy="247.96" r="1.0"/><circle cx="821.44" cy="248.94" r="1.2"/></g>
<g fill="#000"><path d="M850.53,256.55L850.53,253.20M850.53,256.55L853.71,255.52M850.53,256.55L852.49,259.26M850.53,256.55L848.56,259.26M850.53,256.55L847.34,255.52" stroke="#000" stroke-width="1.45" stroke-linecap="round" fill="none"/><circle cx="850.53" cy="253.20" r="1.0"/><circle cx="853.71" cy="255.52" r="1.0"/><circle cx="852.49" cy="259.26" r="1.0"/><circle cx="848.56" cy="259.26" r="1.0"/><circle cx="847.34" cy="255.52" r="1.0"/><circle cx="850.53" cy="256.55" r="1.2"/></g><g fill="#000"><path d="M861.78,256.55L861.78,253.20M861.78,256.55L864.96,255.52M861.78,256.55L863.74,259.26M861.78,256.55L859.81,259.26M861.78,256.55L858.59,255.52" stroke="#000" stroke-width="1.45" stroke-linecap="round" fill="none"/><circle cx="861.78" cy="253.20" r="1.0"/><circle cx="864.96" cy="255.52" r="1.0"/><circle cx="863.74" cy="259.26" r="1.0"/><circle cx="859.81" cy="259.26" r="1.0"/><circle cx="858.59" cy="255.52" r="1.0"/><circle cx="861.78" cy="256.55" r="1.2"/></g>
<g fill="#000"><path d="M889.72,239.99L889.72,236.80M889.72,239.99L892.75,239.00M889.72,239.99L891.60,242.56M889.72,239.99L887.85,242.56M889.72,239.99L886.70,239.00" stroke="#000" stroke-width="1.45" stroke-linecap="round" fill="none"/><circle cx="889.72" cy="236.80" r="1.0"/><circle cx="892.75" cy="239.00" r="1.0"/><circle cx="891.60" cy="242.56" r="1.0"/><circle cx="887.85" cy="242.56" r="1.0"/><circle cx="886.70" cy="239.00" r="1.0"/><circle cx="889.72" cy="239.99" r="1.2"/></g><g fill="#000"><path d="M900.97,239.99L900.97,236.80M900.97,239.99L904.00,239.00M900.97,239.99L902.85,242.56M900.97,239.99L899.10,242.56M900.97,239.99L897.95,239.00" stroke="#000" stroke-width="1.45" stroke-linecap="round" fill="none"/><circle cx="900.97" cy="236.80" r="1.0"/><circle cx="904.00" cy="239.00" r="1.0"/><circle cx="902.85" cy="242.56" r="1.0"/><circle cx="899.10" cy="242.56" r="1.0"/><circle cx="897.95" cy="239.00" r="1.0"/><circle cx="900.97" cy="239.99" r="1.2"/></g>
<g fill="#000"><path d="M930.53,227.70L930.53,224.40M930.53,227.70L933.66,226.68M930.53,227.70L932.46,230.36M930.53,227.70L928.59,230.36M930.53,227.70L927.39,226.68" stroke="#000" stroke-width="1.45" stroke-linecap="round" fill="none"/><circle cx="930.53" cy="224.40" r="1.0"/><circle cx="933.66" cy="226.68" r="1.0"/><circle cx="932.46" cy="230.36" r="1.0"/><circle cx="928.59" cy="230.36" r="1.0"/><circle cx="927.39" cy="226.68" r="1.0"/><circle cx="930.53" cy="227.70" r="1.2"/></g><g fill="#000"><path d="M941.78,227.70L941.78,224.40M941.78,227.70L944.91,226.68M941.78,227.70L943.71,230.36M941.78,227.70L939.84,230.36M941.78,227.70L938.64,226.68" stroke="#000" stroke-width="1.45" stroke-linecap="round" fill="none"/><circle cx="941.78" cy="224.40" r="1.0"/><circle cx="944.91" cy="226.68" r="1.0"/><circle cx="943.71" cy="230.36" r="1.0"/><circle cx="939.84" cy="230.36" r="1.0"/><circle cx="938.64" cy="226.68" r="1.0"/><circle cx="941.78" cy="227.70" r="1.2"/></g>
<g fill="#000"><path d="M975.53,239.99L975.53,236.80M975.53,239.99L978.55,239.00M975.53,239.99L977.40,242.56M975.53,239.99L973.65,242.56M975.53,239.99L972.50,239.00" stroke="#000" stroke-width="1.45" stroke-linecap="round" fill="none"/><circle cx="975.53" cy="236.80" r="1.0"/><circle cx="978.55" cy="239.00" r="1.0"/><circle cx="977.40" cy="242.56" r="1.0"/><circle cx="973.65" cy="242.56" r="1.0"/><circle cx="972.50" cy="239.00" r="1.0"/><circle cx="975.53" cy="239.99" r="1.2"/></g><g fill="#000"><path d="M986.78,239.99L986.78,236.80M986.78,239.99L989.80,239.00M986.78,239.99L988.65,242.56M986.78,239.99L984.90,242.56M986.78,239.99L983.75,239.00" stroke="#000" stroke-width="1.45" stroke-linecap="round" fill="none"/><circle cx="986.78" cy="236.80" r="1.0"/><circle cx="989.80" cy="239.00" r="1.0"/><circle cx="988.65" cy="242.56" r="1.0"/><circle cx="984.90" cy="242.56" r="1.0"/><circle cx="983.75" cy="239.00" r="1.0"/><circle cx="986.78" cy="239.99" r="1.2"/></g>
</svg>
</body></html>
